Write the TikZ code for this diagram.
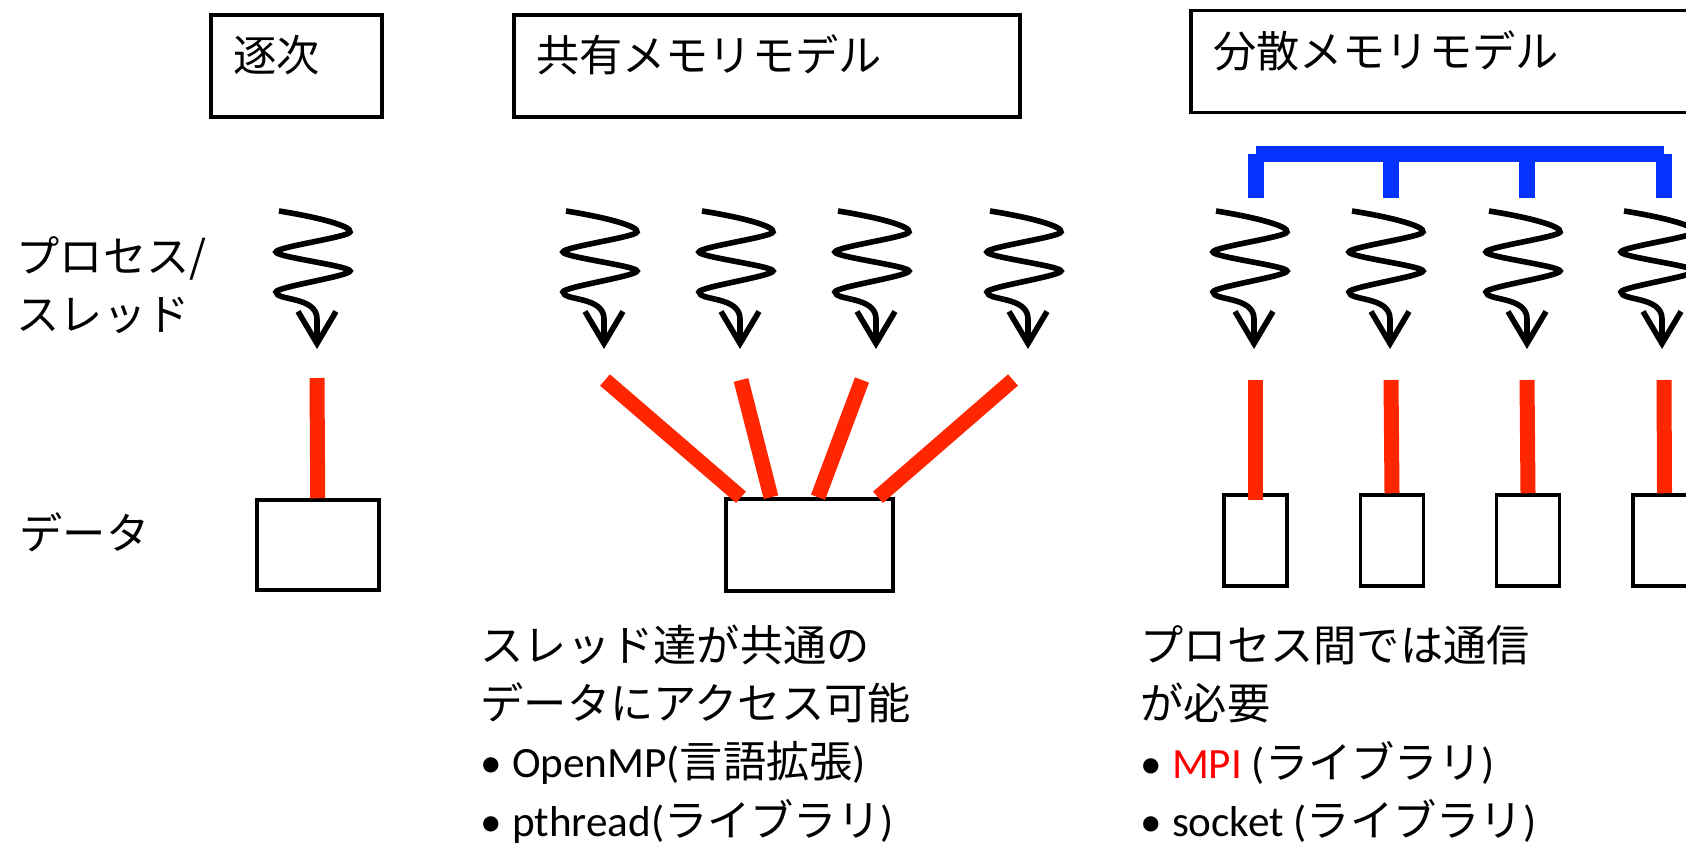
\documentclass[tikz,border=0pt]{standalone}
\usepackage{fontspec}
\setmainfont{Carlito}
\newfontfamily\jp{Noto Sans CJK JP}
\newcommand{\jtext}[1]{{\jp #1}}
\usetikzlibrary{arrows.meta}

\definecolor{accessred}{RGB}{255,38,0}
\definecolor{commblue}{RGB}{4,51,255}

\tikzset{
  thread line/.style={line width=1.6pt, -{Straight Barb[length=3.2mm,width=3.8mm]}},
  thread/.pic={
    \draw[thread line] (-0.38,1.38) .. controls (0.0,1.32) and (0.35,1.23) .. (0.33,1.17)
      .. controls (0.32,1.12) and (-0.41,1.02) .. (-0.41,0.97)
      .. controls (-0.41,0.92) and (0.33,0.83) .. (0.33,0.78)
      .. controls (0.33,0.73) and (-0.41,0.62) .. (-0.41,0.57)
      .. controls (-0.41,0.48) and (0.0,0.53) .. (0,0.30) -- (0,0);
  },
  titlebox/.style={draw, line width=1pt, inner xsep=0.22cm, inner ysep=0pt,
    minimum height=1.02cm, align=left, text height=0.4cm, text depth=0.28cm,
    font=\jp\fontsize{12.3}{16.6}\selectfont},
  databox/.style={draw, line width=1pt, inner sep=0pt},
  label text/.style={align=left, anchor=west, inner sep=0pt, font=\fontsize{12.3}{16.6}\selectfont},
  access/.style={accessred, line width=0.15cm},
  comm/.style={commblue, line width=0.16cm}
}

\begin{document}
\begin{tikzpicture}
  \useasboundingbox (0,0) rectangle (16.86,8.45);

  % titles
  \node[titlebox, text width=1.27cm] (seq) at (2.965,7.79) {逐次};
  \node[titlebox, text width=4.62cm] (shm) at (7.67,7.79) {共有メモリモデル};
  \node[titlebox, text width=5.0cm] (dsm) at (14.63,7.835) {分散メモリモデル};

  % row labels
  \node[label text] (proc) at (0.16,5.60) {\jtext{プロセス/}\\\jtext{スレッド}};
  \node[label text] (data) at (0.19,3.13) {\jtext{データ}};

  % threads
  \foreach \x in {3.17, 6.04, 7.40, 8.76, 10.28, 12.54, 13.90, 15.27, 16.62}
    \pic at (\x,4.96) {thread};

  % data
  \node[databox, minimum width=1.22cm, minimum height=0.90cm] (d0) at (3.18,3.00) {};
  \node[databox, minimum width=1.67cm, minimum height=0.92cm] (d1) at (8.095,3.00) {};
  \foreach \i/\x in {2/12.555, 3/13.92, 4/15.28, 5/16.645}
    \node[databox, minimum width=0.63cm, minimum height=0.91cm] (d\i) at (\x,3.045) {};

  % access
  \coordinate (a0) at (3.17,4.67);
  \draw[access] (a0) -- (d0);

  \coordinate (a1) at (6.05,4.65);
  \coordinate (a2) at (7.41,4.65);
  \coordinate (a3) at (8.62,4.65);
  \coordinate (a4) at (10.13,4.65);
  \foreach \a/\dx in {a1/-6.85mm, a2/-3.85mm, a3/0.85mm, a4/6.85mm}
    \draw[access] (\a) -- ([xshift=\dx]d1.north);

  \foreach \i/\x in {2/12.555, 3/13.91, 4/15.27, 5/16.64}
    \coordinate (b\i) at (\x,4.65);
  \draw[access] (b2) -- ([yshift=-0.7mm]d2.north);
  \foreach \i in {3,4,5}
    \draw[access] (b\i) -- (d\i.north);

  % communication
  \coordinate (bar) at (0,6.915);
  \foreach \i/\x in {1/12.555, 2/13.91, 3/15.27, 4/16.64}
    \coordinate (c\i) at (\x,6.47);
  \foreach \i in {1,...,4}
    \draw[comm] (c\i) -- (c\i |- bar);
  \draw[comm] (c1 |- bar) -- (c4 |- bar);

  % notes
  \node[label text] (shmnote) at (4.80,1.11)
    {\jtext{スレッド達が共通の}\\
     \jtext{データにアクセス可能}\\
     • OpenMP(\jtext{言語拡張})\\
     • pthread(\jtext{ライブラリ})};
  \node[label text] (dsmnote) at (11.40,1.11)
    {\jtext{プロセス間では通信}\\
     \jtext{が必要}\\
     • \textcolor{red}{MPI} (\jtext{ライブラリ})\\
     • socket (\jtext{ライブラリ})};
\end{tikzpicture}
\end{document}
